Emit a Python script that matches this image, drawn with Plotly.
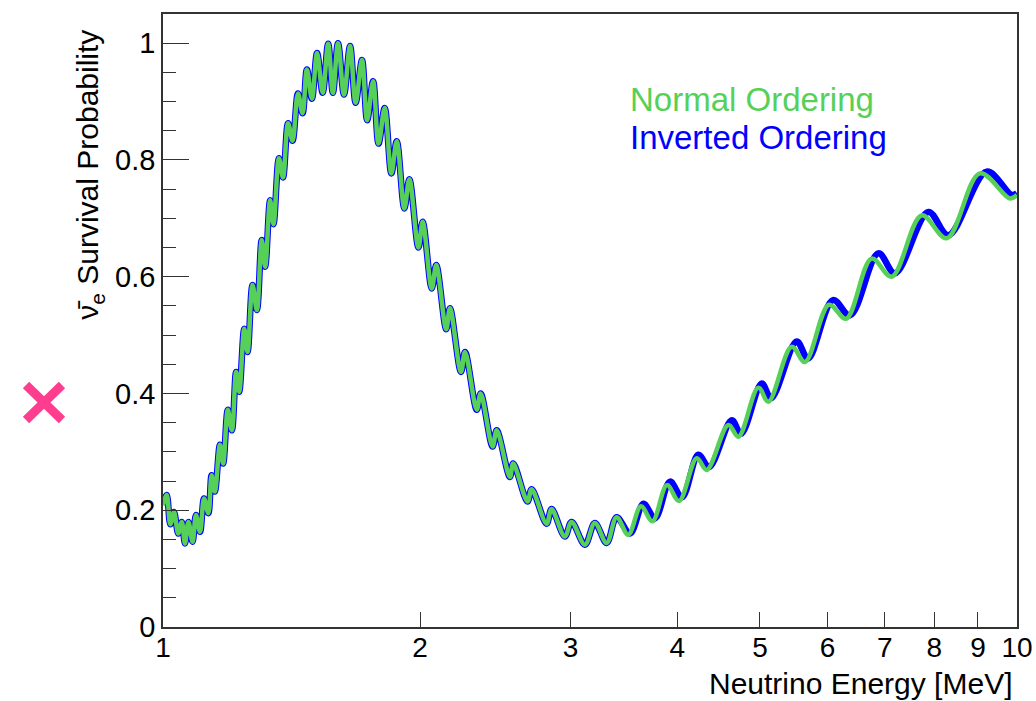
import plotly.graph_objects as go

# ---- data (energy in MeV, survival probability) ----
# region where both orderings overlap (1 - 3.4 MeV)
shared_E = [1.000, 1.010, 1.020, 1.030, 1.042, 1.052, 1.061, 1.071, 1.083, 1.093,
            1.105, 1.117, 1.130, 1.140, 1.150, 1.166, 1.176, 1.191, 1.204, 1.218,
            1.228, 1.245, 1.256, 1.273, 1.288, 1.305, 1.317, 1.335, 1.347, 1.367,
            1.382, 1.401, 1.418, 1.439, 1.457, 1.474, 1.494, 1.515, 1.538, 1.561,
            1.581, 1.603, 1.629, 1.656, 1.681, 1.710, 1.734, 1.762, 1.788, 1.818,
            1.851, 1.878, 1.917, 1.943, 1.991, 2.014, 2.064, 2.089, 2.146, 2.168,
            2.233, 2.258, 2.330, 2.355, 2.432, 2.459, 2.548, 2.571, 2.672, 2.702,
            2.813, 2.851, 2.955, 3.009, 3.119, 3.204, 3.307, 3.398]
shared_P = [0.209, 0.226, 0.176, 0.197, 0.160, 0.180, 0.143, 0.180, 0.146, 0.192,
            0.163, 0.220, 0.195, 0.260, 0.232, 0.312, 0.280, 0.372, 0.337, 0.437,
            0.403, 0.511, 0.471, 0.586, 0.543, 0.663, 0.617, 0.731, 0.690, 0.803,
            0.770, 0.863, 0.833, 0.914, 0.880, 0.955, 0.905, 0.983, 0.915, 0.999,
            0.915, 1.000, 0.912, 0.995, 0.898, 0.971, 0.868, 0.935, 0.828, 0.889,
            0.777, 0.832, 0.717, 0.767, 0.650, 0.694, 0.580, 0.620, 0.510, 0.546,
            0.437, 0.471, 0.372, 0.400, 0.309, 0.337, 0.257, 0.280, 0.215, 0.236,
            0.177, 0.202, 0.155, 0.180, 0.141, 0.178, 0.144, 0.188]

# Normal ordering, above 3.4 MeV
normal_E = [3.506, 3.628, 3.742, 3.892, 4.020, 4.217, 4.332, 4.592, 4.718, 4.979,
            5.115, 5.447, 5.646, 6.024, 6.307, 6.758, 7.133, 7.734, 8.274, 9.050,
            9.813, 10.000]
normal_P = [0.158, 0.207, 0.181, 0.243, 0.216, 0.289, 0.269, 0.346, 0.326, 0.410,
            0.386, 0.480, 0.454, 0.552, 0.528, 0.631, 0.600, 0.705, 0.666, 0.777,
            0.734, 0.740]

# Inverted ordering, above 3.4 MeV
inverted_E = [3.522, 3.653, 3.767, 3.924, 4.052, 4.235, 4.359, 4.634, 4.752, 5.025,
              5.152, 5.521, 5.692, 6.089, 6.375, 6.880, 7.197, 7.873, 8.310, 9.215,
              9.858, 10.000]
inverted_P = [0.160, 0.211, 0.186, 0.249, 0.222, 0.295, 0.274, 0.354, 0.331, 0.417,
              0.392, 0.489, 0.460, 0.560, 0.534, 0.640, 0.606, 0.711, 0.671, 0.780,
              0.740, 0.743]

x_ticks = [1, 2, 3, 4, 5, 6, 7, 8, 9, 10]
x_tick_labels = ["1", "2", "3", "4", "5", "6", "7", "8", "9", "10"]
y_ticks = [0, 0.2, 0.4, 0.6, 0.8, 1.0]
y_tick_labels = ["0", "0.2", "0.4", "0.6", "0.8", "1"]

GREEN = "#57D057"
BLUE = "#0000FF"
PINK = "#FF3D8E"
FONT = "Liberation Sans, Arial, Helvetica, sans-serif"

fig = go.Figure()
fig.add_trace(go.Scatter(
    x=shared_E + inverted_E, y=shared_P + inverted_P, mode="lines",
    line=dict(color=BLUE, width=6.5, shape="spline", smoothing=1.0),
    name="Inverted Ordering", showlegend=False, hoverinfo="skip"))
fig.add_trace(go.Scatter(
    x=shared_E + normal_E, y=shared_P + normal_P, mode="lines",
    line=dict(color=GREEN, width=4.5, shape="spline", smoothing=1.0),
    name="Normal Ordering", showlegend=False, hoverinfo="skip"))

axis_common = dict(showline=True, linecolor="#333333", linewidth=1.5, mirror=True,
                   showgrid=False, zeroline=False, ticks="inside", tickcolor="#333333",
                   automargin=False)

fig.update_xaxes(type="log", range=[0, 1], tickvals=x_ticks, ticktext=x_tick_labels,
                 ticklen=15, tickwidth=1.3, ticklabelstandoff=-5,
                 tickfont=dict(family=FONT, size=28, color="black"), **axis_common)
fig.update_yaxes(range=[0, 1.05], tickvals=y_ticks, ticktext=y_tick_labels,
                 ticklen=26, tickwidth=1.3,
                 tickfont=dict(family=FONT, size=29, color="black"),
                 minor=dict(dtick=0.05, ticklen=13, ticks="inside", tickcolor="#333333",
                            tickwidth=1.3, showgrid=False),
                 **axis_common)

fig.update_layout(
    width=1036, height=701,
    margin=dict(l=163, r=19, t=14, b=74, autoexpand=False),
    paper_bgcolor="white", plot_bgcolor="white",
    font=dict(family=FONT, color="black"),
    annotations=[
        dict(text="Neutrino Energy [MeV]", xref="paper", yref="paper",
             x=0.996, y=-0.092, xanchor="right", yanchor="middle", showarrow=False,
             font=dict(size=30, color="black", family=FONT)),
        dict(text="\u03bd\u0304<sub>e</sub> Survival Probability", xref="paper", yref="paper",
             x=-0.086, y=0.737, xanchor="center", yanchor="middle", showarrow=False,
             textangle=-90, font=dict(size=30, color="black", family=FONT)),
        dict(text="Normal Ordering", xref="paper", yref="paper",
             x=0.5445, y=0.860, xanchor="left", yanchor="middle", showarrow=False,
             font=dict(size=33, color=GREEN, family=FONT)),
        dict(text="Inverted Ordering", xref="paper", yref="paper",
             x=0.5445, y=0.798, xanchor="left", yanchor="middle", showarrow=False,
             font=dict(size=33, color=BLUE, family=FONT)),
    ],
    shapes=[
        dict(type="line", xref="paper", yref="paper", x0=-0.1604, y0=0.3948,
             x1=-0.1183, y1=0.3377, line=dict(color=PINK, width=9)),
        dict(type="line", xref="paper", yref="paper", x0=-0.1604, y0=0.3377,
             x1=-0.1183, y1=0.3948, line=dict(color=PINK, width=9)),
    ],
)

fig.write_html("out.html")
